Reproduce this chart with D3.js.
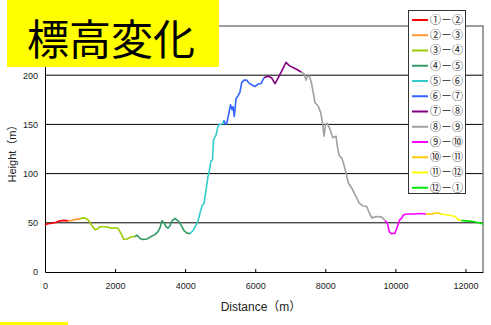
<!DOCTYPE html>
<html>
<head>
<meta charset="utf-8">
<script src="https://cdn.jsdelivr.net/npm/d3@7"></script>
<style>
  body { margin: 0; background: #fff; }
  svg { display: block; }
</style>
</head>
<body>
<div id="chart"></div>
<script>
// legend labels for each leg of the route
const segmentLabels = ['①－②', '②－③', '③－④', '④－⑤', '⑤－⑥', '⑥－⑦',
    '⑦－⑧', '⑧－⑨', '⑨－⑩', '⑩－⑪', '⑪－⑫', '⑫－①'];
const segmentColors = ['#ff0000', '#ff9933', '#99cc00', '#339966', '#33cccc', '#3366ff',
    '#800080', '#a0a0a0', '#ff00ff', '#ffcc00', '#ffff00', '#00e600'];

// distance (m) at which each leg ends
const segmentEnds = [656, 999, 2569, 4138, 5109, 6250, 7321, 9704, 10874, 11302, 11873, 12500];

// profile points
const distance = [
    0, 86, 200, 314, 428, 542, 656,
    770, 885, 999,
    1085, 1170, 1256, 1341, 1427, 1484, 1570, 1684, 1798, 1912, 2026, 2083, 2169, 2255, 2340, 2454, 2569,
    2626, 2711, 2797, 2911, 3025, 3139, 3225, 3282, 3339, 3396, 3453, 3510, 3567, 3625, 3710, 3796, 3881, 3967, 4053, 4138,
    4224, 4310, 4367, 4424, 4481, 4538, 4595, 4652, 4681, 4738, 4780, 4809, 4880, 4937, 4966, 5052, 5109,
    5151, 5194, 5251, 5294, 5337, 5366, 5403, 5451, 5508, 5565, 5614, 5680, 5751, 5822, 5908, 5993, 6079, 6165, 6250,
    6364, 6464, 6564, 6650, 6750, 6878, 6964, 7064, 7178, 7321,
    7392, 7449, 7492, 7549, 7612, 7657, 7706, 7792, 7868, 7926, 7963, 8011, 8057, 8134, 8211, 8305, 8342, 8399, 8468,
    8514, 8591, 8656, 8753, 8847, 8970, 9084, 9181, 9256, 9324, 9467, 9610, 9704,
    9769, 9826, 9895, 9989, 10055, 10112, 10180, 10226, 10323, 10503, 10703, 10874,
    11037, 11159, 11225, 11302,
    11510, 11701, 11796, 11873,
    12035, 12224, 12415, 12500
];
const height = [
    48, 49, 49.5, 50.5, 52, 52.5, 52,
    52.5, 53.5, 54,
    55, 54.5, 52, 47, 43, 43.5, 46, 46, 45.5, 44.5, 45, 44.5, 39, 33, 33.5, 35.5, 36,
    37.5, 34, 33, 33.5, 36, 38, 41, 45, 52, 50, 46, 44.5, 47, 52, 54.5, 52, 48, 42, 39.5, 39,
    42, 48, 52, 60, 67, 70, 83, 97, 101, 113, 114, 134, 139, 148, 150, 150, 154,
    150, 152, 162, 170, 165, 168, 158, 176, 179, 183, 192.5, 195, 195, 192, 190, 188.5, 191, 191.5, 197.5,
    199, 197.5, 191.5, 197, 204, 213, 210, 208, 206, 203,
    201.5, 195, 199, 199, 191, 182, 172, 169, 162, 150, 138, 150, 151, 145, 136.4, 138, 128, 118, 116,
    111, 100.7, 90.5, 85.4, 78.6, 70, 67, 66.6, 60, 55, 56.4, 55.8, 52.3,
    49.7, 41, 38.8, 39.5, 46, 52.4, 54.8, 58, 59, 59, 59.5, 59,
    59, 60, 60, 59,
    58, 56.4, 53, 52.4,
    52, 51.3, 49.7, 48.7
];

const xTicks = [0, 2000, 4000, 6000, 8000, 10000, 12000];
// the 250 label sits under the title box, so only these show
const yTicks = [0, 50, 100, 150, 200];
const yMax = 250;

const titleText = '標高変化';
const labelX = 'Distance（m）';
const labelY = 'Height（m）';

class ProfileChart {

    constructor(container, width, height, margin) {
        this.width = width;
        this.height = height;
        this.margin = margin; // top, bottom, left, right

        this.svg = d3.select(container).append('svg')
            .attr('width', width).attr('height', height)
            .style('font-family', '"Liberation Sans", "Noto Sans CJK JP", sans-serif');

        this.chartW = width - margin[2] - margin[3];
        this.chartH = height - margin[0] - margin[1];

        this.scaleX = d3.scaleLinear([0, 12500], [0, this.chartW]);
        this.scaleY = d3.scaleLinear([0, yMax], [this.chartH, 0]);

        this.chart = this.svg.append('g')
            .attr('transform', `translate(${margin[2]},${margin[0]})`);
    }

    drawFrame() {
        const x = this.scaleX, y = this.scaleY;

        // gridlines
        this.chart.append('g').selectAll('line')
            .data(yTicks.filter(d => d > 0))
            .join('line')
            .attr('x1', 0).attr('x2', this.chartW)
            .attr('y1', d => y(d)).attr('y2', d => y(d))
            .attr('stroke', '#000').attr('stroke-width', 1);

        // top and right border (gray)
        this.chart.append('path')
            .attr('d', `M0,${y(yMax)}H${this.chartW}V${this.chartH}`)
            .attr('fill', 'none').attr('stroke', '#808080').attr('stroke-width', 1.5);

        const axisY = this.chart.append('g')
            .call(d3.axisLeft(y).tickValues(yTicks).tickSize(0).tickPadding(7));
        axisY.select('.domain').attr('stroke', '#000');
        axisY.selectAll('text').attr('fill', '#222').style('font-size', '9px')
            .style('font-family', '"Liberation Sans", sans-serif');

        const axisX = this.chart.append('g')
            .attr('transform', `translate(0,${this.chartH})`)
            .call(d3.axisBottom(x).tickValues(xTicks).tickSizeInner(-3).tickSizeOuter(0).tickPadding(11)
                .tickFormat(d3.format('d')));
        axisX.select('.domain').attr('stroke', '#000');
        axisX.selectAll('.tick line').attr('stroke', '#000');
        axisX.selectAll('text').attr('fill', '#222').style('font-size', '9px')
            .style('font-family', '"Liberation Sans", sans-serif');

        this.svg.append('text')
            .attr('x', this.margin[2] + this.chartW / 2 - 3)
            .attr('y', 311)
            .attr('text-anchor', 'middle')
            .style('font-size', '12px')
            .attr('fill', '#222')
            .text(labelX);

        this.svg.append('text')
            .attr('transform', `translate(16,${this.margin[0] + 125}) rotate(-90)`)
            .attr('text-anchor', 'middle')
            .style('font-size', '11px')
            .attr('fill', '#222')
            .text(labelY);
    }

    drawLines() {
        const x = this.scaleX, y = this.scaleY;
        const points = distance.map((d, i) => [d, height[i]]);
        const segments = segmentEnds.map((end, i) => {
            const start = i === 0 ? 0 : segmentEnds[i - 1];
            return points.filter(p => p[0] >= start && p[0] <= end);
        });

        const line = d3.line().x(d => x(d[0])).y(d => y(d[1]));

        this.chart.append('g').selectAll('path')
            .data(segments)
            .join('path')
            .attr('d', line)
            .attr('fill', 'none')
            .attr('stroke', (d, i) => segmentColors[i])
            .attr('stroke-width', 1.6)
            .attr('stroke-linejoin', 'round');
    }

    drawLegend() {
        const lg = this.svg.append('g').attr('transform', 'translate(408,10)');
        lg.append('rect')
            .attr('x', 0.5).attr('y', 0.5)
            .attr('width', 57).attr('height', 183)
            .attr('fill', '#fff').attr('stroke', '#333');

        const items = lg.selectAll('g.item')
            .data(segmentLabels)
            .join('g')
            .classed('item', true)
            .attr('transform', (d, i) => `translate(0,${10 + i * 15.25})`);

        items.append('line')
            .attr('x1', 4).attr('x2', 20)
            .attr('stroke', (d, i) => segmentColors[i])
            .attr('stroke-width', 2);

        items.append('text')
            .attr('x', 22)
            .attr('dy', '0.36em')
            .style('font-size', '11px')
            .style('font-family', '"Noto Sans CJK JP", sans-serif')
            .attr('fill', '#222')
            .text(d => d);
    }

    drawTitle() {
        this.svg.append('rect')
            .attr('x', 7).attr('y', 0)
            .attr('width', 212).attr('height', 67)
            .attr('fill', '#ffff00');

        this.svg.append('text')
            .attr('x', 111).attr('y', 36)
            .attr('text-anchor', 'middle')
            .attr('dominant-baseline', 'central')
            .style('font-family', '"Noto Sans CJK JP", sans-serif')
            .style('font-size', '42px')
            .attr('fill', '#000')
            .text(titleText);

        // edge of another yellow label at the bottom
        this.svg.append('rect')
            .attr('x', 0).attr('y', 322)
            .attr('width', 68).attr('height', 3)
            .attr('fill', '#ffff00');
    }
}

const chart = new ProfileChart('#chart', 491, 325, [26, 53, 45, 8]);
chart.drawFrame();
chart.drawLines();
chart.drawLegend();
chart.drawTitle();
</script>
</body>
</html>
